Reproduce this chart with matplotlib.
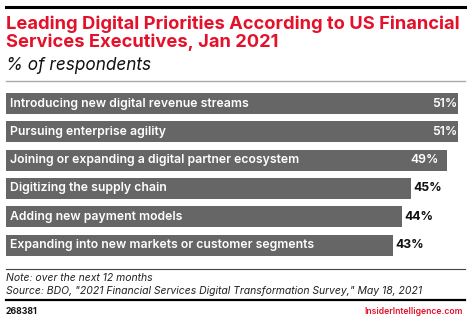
import matplotlib.pyplot as plt
from matplotlib.lines import Line2D

# Data
priorities = [
    "Introducing new digital revenue streams",
    "Pursuing enterprise agility",
    "Joining or expanding a digital partner ecosystem",
    "Digitizing the supply chain",
    "Adding new payment models",
    "Expanding into new markets or customer segments",
]
values = [51, 51, 49, 45, 44, 43]

RED = "#e4112b"
BAR = "#666666"
W, H = 470, 321

plt.rcParams["font.family"] = ["Inter", "DejaVu Sans"]

fig = plt.figure(figsize=(W / 100, H / 100), dpi=100)


def fx(px):
    return px / W


def fy(py):
    return 1 - py / H


# bar area
top, bottom = 89.4, 259.2
ax = fig.add_axes([fx(6), fy(bottom), fx(458) - fx(6), fy(top) - fy(bottom)])
y = range(len(values))
ax.barh(y, values, height=0.74, color=BAR)
ax.set_xlim(0, 50.2)
ax.set_ylim(len(values) - 0.5, -0.5)
ax.axis("off")

for i, (name, v) in enumerate(zip(priorities, values)):
    ax.annotate(name, (0, i), xytext=(3.5, 0), textcoords="offset pixels",
                ha="left", va="center", color="white", fontsize=8.8,
                fontweight="semibold")
    if v >= 49:
        ax.annotate(f"{v}%", (v, i), xytext=(-8, 0), textcoords="offset pixels",
                    ha="right", va="center", color="white", fontsize=8.8,
                    fontweight="semibold", annotation_clip=False)
    else:
        ax.annotate(f"{v}%", (v, i), xytext=(2, 0), textcoords="offset pixels",
                    ha="left", va="center", color="#111111", fontsize=8.8,
                    fontweight="bold")

# rules
fig.add_artist(Line2D([fx(6), fx(465)], [fy(6.5), fy(6.5)], color="black", lw=2.2))
fig.add_artist(Line2D([fx(6), fx(465)], [fy(80.5), fy(80.5)], color="#aaaaaa", lw=1.0))
fig.add_artist(Line2D([fx(6), fx(465)], [fy(269), fy(269)], color="#444444", lw=0.8))
fig.add_artist(Line2D([fx(6), fx(465)], [fy(300), fy(300)], color="black", lw=1.6))

# titles
fig.text(fx(6), fy(24.5), "Leading Digital Priorities According to US Financial",
         color=RED, fontsize=13.2, fontweight="bold", va="center")
fig.text(fx(6), fy(42.5), "Services Executives, Jan 2021",
         color=RED, fontsize=13.2, fontweight="bold", va="center")
fig.text(fx(6), fy(66), "% of respondents", color="#111111", fontsize=12.4,
         fontstyle="italic", va="center")

# notes
fig.text(fx(6), fy(278), "Note: over the next 12 months", color="#222222",
         fontsize=7.5, fontstyle="italic", va="center")
fig.text(fx(6), fy(291), 'Source: BDO, "2021 Financial Services Digital Transformation Survey," May 18, 2021',
         color="#222222", fontsize=7.5, fontstyle="italic", va="center")
fig.text(fx(6), fy(311), "268381", color="#111111", fontsize=6.3,
         fontweight="bold", va="center")
fig.text(fx(463), fy(311), "InsiderIntelligence.com", color=RED, fontsize=6.2,
         fontweight="semibold", va="center", ha="right")

fig.savefig("out.png", dpi=100)
